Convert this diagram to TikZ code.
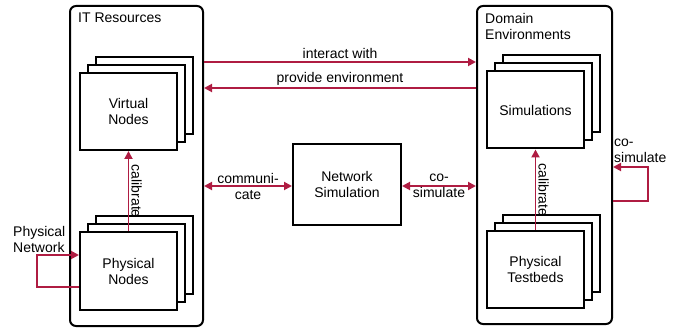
\documentclass[tikz,border=0pt]{standalone}
\usepackage{fontspec}
\setmainfont{Liberation Sans}
\usetikzlibrary{arrows.meta}
\definecolor{crim}{RGB}{175,28,66}
\begin{document}
\begin{tikzpicture}[x=1pt,y=-1pt,
  font=\fontsize{14}{16}\selectfont,
  box/.style={draw, line width=2pt, fill=white, minimum width=97pt, minimum height=77pt, inner sep=0pt, align=center},
  cont/.style={draw, line width=2pt, rounded corners=6pt, inner sep=0pt},
  arr/.style={draw=crim, line width=1.9pt, -{Triangle[length=8pt,width=8pt]}},
  darr/.style={draw=crim, line width=1.9pt, {Triangle[length=8pt,width=8pt]}-{Triangle[length=8pt,width=8pt]}},
  lbl/.style={inner sep=2pt, align=center},
  txt/.style={inner sep=0pt, align=left, anchor=north west}]
\useasboundingbox (0,0) rectangle (688,331);

% containers
\node[cont, minimum width=133pt, minimum height=320pt] (IT) at (136.5,166) {};
\node[cont, minimum width=135pt, minimum height=318pt] (Dom) at (544.5,165) {};
\node[txt] (ITlbl) at (78,13) {IT Resources};
\node[txt] (Domlbl) at (485,13) {Domain\\Environments};

% stacks
\node[box] (virt3) at (144.5,95.5) {};
\node[box] (virt2) at (136.5,103.5) {};
\node[box] (virt) at (128.5,111.5) {Virtual\\Nodes};

\node[box] (phys3) at (144.5,255) {};
\node[box] (phys2) at (136.5,263) {};
\node[box] (phys) at (128.5,271) {Physical\\Nodes};

\node[box] (sim3) at (551.5,94) {};
\node[box] (sim2) at (543.5,102) {};
\node[box] (sim) at (535.5,110) {Simulations};

\node[box] (test3) at (551.5,253.5) {};
\node[box] (test2) at (543.5,261.5) {};
\node[box] (test) at (535.5,269.5) {Physical\\Testbeds};

\node[box, minimum width=108pt, minimum height=81pt] (net) at (347,184.5) {Network\\Simulation};

% arrows
\draw[arr] (IT.east |- 0,62) -- node[lbl, above] {interact with} (Dom.west |- 0,62);
\draw[arr] (Dom.west |- 0,88) -- node[lbl, above] {provide environment} (IT.east |- 0,88);
\draw[darr] (IT.east |- 0,186) -- node[lbl] {communi-\\cate} (net.west |- 0,186);
\draw[darr] (net.east |- 0,186) -- node[lbl] {co-\\simulate} (Dom.west |- 0,186);

\draw[arr] (phys.north) -- node[lbl, rotate=-90, anchor=south] {calibrate} (virt.south);
\draw[arr] (test.north) -- node[lbl, rotate=-90, anchor=south] {calibrate} (sim.south);

% loops
\draw[arr] ([yshift=-16pt]phys.west) -- ++(-42,0) |- ([yshift=16pt]phys.west);
\node[txt] (pnet) at (13,226) {Physical\\Network};

\draw[arr] ([yshift=-36pt]Dom.east) -- ++(35,0) |- ([yshift=-2pt]Dom.east);
\node[txt] (cosim) at (614,139) {co-\\simulate};
\end{tikzpicture}
\end{document}
